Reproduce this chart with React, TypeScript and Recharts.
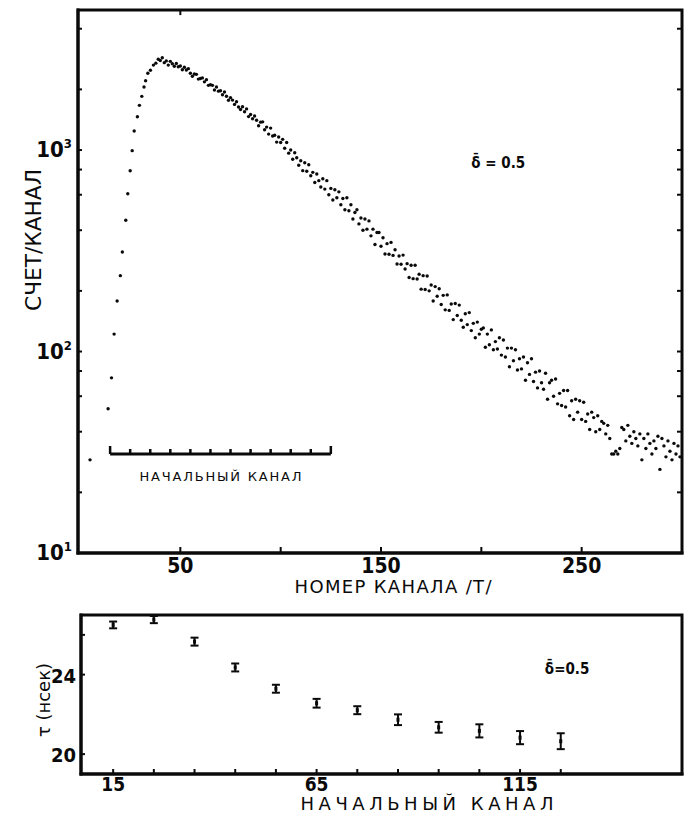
import {
  ErrorBar,
  Label,
  ReferenceArea,
  ReferenceDot,
  ReferenceLine,
  Scatter,
  ScatterChart,
  XAxis,
  YAxis,
} from 'recharts';

// ---- spectrum: counts per channel ----
// rising edge, channel positions as read off the channel scale
const RISE_CHANNELS = [5, 14, 15.7, 17, 18.5, 20.1, 21.1, 22.8, 23.8, 25, 26, 27, 28.6, 29.6, 30.8, 31.9, 32.7, 33.8, 35.1, 36.6, 37.8, 39, 40];
const RISE_COUNTS = [29, 52, 74, 122, 178, 238, 312, 448, 607, 789, 993, 1242, 1462, 1666, 1847, 2054, 2207, 2403, 2491, 2640, 2700, 2820, 2780];

// decay, one value per channel from channel 41 on
const DECAY_FIRST_CHANNEL = 41;
const DECAY_COUNTS = [
  2870, 2715, 2770, 2640, 2755, 2680, 2605, 2690, 2590, 2615,
  2505, 2575, 2495, 2535, 2405, 2325, 2385, 2375, 2250, 2265,
  2280, 2180, 2235, 2095, 2110, 2095, 1985, 2055, 1960, 1970,
  1880, 1940, 1850, 1765, 1820, 1770, 1685, 1735, 1635, 1590,
  1640, 1550, 1600, 1465, 1500, 1430, 1475, 1405, 1320, 1375,
  1380, 1260, 1300, 1200, 1285, 1175, 1185, 1095, 1160, 1090,
  1130, 1020, 1090, 965, 1000, 900, 970, 915, 840, 885,
  790, 865, 785, 845, 745, 775, 690, 760, 705, 655,
  720, 640, 705, 600, 645, 565, 635, 580, 620, 535,
  575, 505, 580, 500, 535, 455, 490, 505, 430, 460,
  400, 455, 405, 445, 375, 405, 340, 390, 390, 333,
  367, 305, 343, 304, 348, 300, 320, 272, 298, 271,
  301, 257, 273, 233, 268, 230, 268, 229, 242, 204,
  238, 203, 237, 200, 214, 178, 210, 188, 205, 171,
  190, 161, 191, 160, 172, 144, 173, 151, 170, 143,
  132, 154, 136, 156, 127, 138, 117, 140, 122, 129,
  131, 105, 122, 108, 128, 102, 112, 103, 117, 96,
  114, 94, 104, 84, 104, 90, 102, 81, 92, 82,
  94, 72, 88, 77, 92, 71, 79, 66, 80, 70,
  65, 78, 58, 70, 72, 60, 73, 55, 62, 54,
  64, 53, 64, 48, 57, 46, 58, 50, 57, 46,
  56, 45, 49, 41, 50, 47, 40, 48, 41, 45,
  44, 39, 43, 37, 31, 31, 32, 31, 33, 42,
  41, 36, 43, 38, 35, 40, 37, 34, 39, 29,
  37, 33, 39, 35, 31, 36, 33, 38, 26, 37,
  34, 30, 36, 32, 29, 35, 31, 34, 30,
];

const CHANNEL_DOMAIN = [-1, 300];
const CHANNEL_TICKS = [50, 100, 150, 200, 250];
const CHANNEL_LABELS = [50, 150, 250];
const CHANNEL_TOP_TICKS = [50];
const COUNT_DOMAIN = [10, 4955];
const COUNT_TICKS = [10, 20, 40, 60, 80, 100, 200, 400, 600, 800, 1000, 2000, 4000];
const COUNT_DECADES = [10, 100, 1000];

// ---- lifetime vs. starting channel ----
const START_DOMAIN = [7.1, 154.8];
const START_CHANNELS = [15, 25, 35, 45, 55, 65, 75, 85, 95, 105, 115, 125];
const TAU = [26.5, 26.77, 25.66, 24.36, 23.29, 22.56, 22.21, 21.73, 21.35, 21.17, 20.83, 20.65];
const TAU_ERR = [0.17, 0.18, 0.2, 0.2, 0.2, 0.22, 0.2, 0.27, 0.27, 0.33, 0.33, 0.4];
const START_LABELS = [15, 65, 115];
const TAU_DOMAIN = [19, 27];
const TAU_TICKS = [20, 24, 26];
const TAU_LABELS = [20, 24];

// level of the start-channel ruler drawn inside the spectrum
const RULER_LEVEL = 31;

const INK = '#0a0a0a';
const NUM_FONT = "'Liberation Sans Narrow','DejaVu Sans Condensed','Roboto Condensed','Liberation Sans',Arial,sans-serif";
const TEXT_FONT = "'DejaVu Sans','Liberation Sans',sans-serif";

const spectrum = [
  ...RISE_CHANNELS.map((ch, i) => ({ ch, count: RISE_COUNTS[i] })),
  ...DECAY_COUNTS.map((count, i) => ({ ch: DECAY_FIRST_CHANNEL + i, count })),
];
const ruler = START_CHANNELS.map((ch, i) => ({
  ch,
  count: RULER_LEVEL,
  end: i === 0 || i === START_CHANNELS.length - 1,
}));
const lifetimes = START_CHANNELS.map((ch, i) => ({ ch, tau: TAU[i], err: TAU_ERR[i] }));

const frame = { stroke: INK, strokeWidth: 3, strokeLinecap: 'square' as const };

// tick marks point into the plot; labels sit outside
function BottomTick({ x, y, payload, labels, len, size, gap }: any) {
  const v = payload.value;
  return (
    <g>
      <line x1={x} y1={y} x2={x} y2={y - len} stroke={INK} strokeWidth={2} />
      {labels.includes(v) && (
        <text x={x} y={y + gap} textAnchor="middle" fontFamily={NUM_FONT} fontWeight={700} fontSize={size} fill={INK}>
          {v}
        </text>
      )}
    </g>
  );
}

function CountTick({ x, y, payload }: any) {
  const v = payload.value;
  const i = COUNT_DECADES.indexOf(v);
  return (
    <g>
      <line x1={x} y1={y} x2={x + 4} y2={y} stroke={INK} strokeWidth={2} />
      {i >= 0 && (
        <text x={x - 6} y={y + 7} textAnchor="end" fontFamily={NUM_FONT} fontWeight={700} fontSize={22} fill={INK}>
          <tspan>10</tspan>
          <tspan dy={-9} fontSize={13}>{i + 1}</tspan>
        </text>
      )}
    </g>
  );
}

function TauTick({ x, y, payload }: any) {
  const v = payload.value;
  return (
    <g>
      <line x1={x} y1={y} x2={x + 4} y2={y} stroke={INK} strokeWidth={2} />
      {TAU_LABELS.includes(v) && (
        <text x={x - 5} y={y + 8} textAnchor="end" fontFamily={NUM_FONT} fontWeight={700} fontSize={20} fill={INK}>
          {v}
        </text>
      )}
    </g>
  );
}

const dot = (p: any) => <circle cx={p.cx} cy={p.cy} r={1.7} fill={INK} />;
const rulerTick = (p: any) => (
  <line x1={p.cx} y1={p.cy} x2={p.cx} y2={p.cy - (p.payload.end ? 8 : 5)} stroke={INK} strokeWidth={2.5} />
);
const barCore = (p: any) => <rect x={p.cx - 1.5} y={p.cy - 2} width={3} height={4} fill={INK} />;

function SpectrumChart() {
  const [chMin, chMax] = CHANNEL_DOMAIN;
  const [cMin, cMax] = COUNT_DOMAIN;
  return (
    <ScatterChart width={689} height={600} margin={{ top: 10, right: 7, bottom: 0, left: 0 }}>
      <XAxis
        xAxisId="b"
        type="number"
        dataKey="ch"
        domain={CHANNEL_DOMAIN}
        allowDataOverflow
        ticks={CHANNEL_TICKS}
        interval={0}
        height={47}
        tickSize={0}
        tickMargin={0}
        tickLine={false}
        axisLine={frame}
        tick={(p: any) => <BottomTick {...p} labels={CHANNEL_LABELS} len={6} size={21} gap={20} />}
      >
        <Label
          content={() => (
            <text x={393} y={593} textAnchor="middle" fontFamily={TEXT_FONT} fontSize={18} fill={INK} textLength={197} lengthAdjust="spacing">
              НОМЕР КАНАЛА /Т/
            </text>
          )}
        />
      </XAxis>
      <YAxis
        yAxisId="l"
        type="number"
        dataKey="count"
        scale="log"
        domain={COUNT_DOMAIN}
        allowDataOverflow
        ticks={COUNT_TICKS}
        interval={0}
        width={78}
        tickSize={0}
        tickMargin={0}
        tickLine={false}
        axisLine={frame}
        tick={CountTick}
      >
        <Label
          content={() => (
            <text
              x={33}
              y={240}
              transform="rotate(-90 33 240)"
              textAnchor="middle"
              dominantBaseline="central"
              fontFamily={TEXT_FONT}
              fontSize={22}
              fill={INK}
              textLength={142}
              lengthAdjust="spacingAndGlyphs"
            >
              СЧЕТ/КАНАЛ
            </text>
          )}
        />
      </YAxis>

      {/* closed frame around the plot */}
      <ReferenceArea
        xAxisId="b"
        yAxisId="l"
        x1={chMin}
        x2={chMax}
        y1={cMin}
        y2={cMax}
        fill="none"
        fillOpacity={0}
        stroke={INK}
        strokeWidth={3}
        ifOverflow="visible"
      />
      {/* inward ticks on the right edge (about 2.5 channels long) and the top edge */}
      {COUNT_TICKS.map((v) => (
        <ReferenceLine
          key={`r${v}`}
          xAxisId="b"
          yAxisId="l"
          segment={[{ x: chMax - 2.5, y: v }, { x: chMax, y: v }]}
          stroke={INK}
          strokeWidth={2}
          ifOverflow="visible"
        />
      ))}
      {CHANNEL_TOP_TICKS.map((v) => (
        <ReferenceLine
          key={`t${v}`}
          xAxisId="b"
          yAxisId="l"
          segment={[{ x: v, y: cMax }, { x: v, y: cMax / 1.06 }]}
          stroke={INK}
          strokeWidth={2}
          ifOverflow="visible"
        />
      ))}

      <ReferenceLine
        xAxisId="b"
        yAxisId="l"
        segment={[{ x: 15, y: RULER_LEVEL }, { x: 125, y: RULER_LEVEL }]}
        stroke={INK}
        strokeWidth={3}
        ifOverflow="visible"
        label={(props: any) => {
          const vb = props.viewBox;
          return (
            <text x={vb.x + vb.width / 2} y={vb.y + 27} textAnchor="middle" fontFamily={TEXT_FONT} fontSize={13} fill={INK} textLength={162} lengthAdjust="spacing">
              НАЧАЛЬНЫЙ КАНАЛ
            </text>
          );
        }}
      />
      <Scatter xAxisId="b" yAxisId="l" data={ruler} shape={rulerTick} isAnimationActive={false} />
      <Scatter xAxisId="b" yAxisId="l" data={spectrum} shape={dot} isAnimationActive={false} />

      <ReferenceDot
        xAxisId="b"
        yAxisId="l"
        x={195}
        y={815}
        r={0}
        fill="none"
        stroke="none"
        ifOverflow="visible"
        label={(props: any) => (
          <text x={props.viewBox.x} y={props.viewBox.y} fontFamily={NUM_FONT} fontWeight={700} fontSize={15} fill={INK}>
            δ̄ = 0.5
          </text>
        )}
      />
    </ScatterChart>
  );
}

function LifetimeChart() {
  return (
    <ScatterChart width={689} height={220} margin={{ top: 15, right: 7, bottom: 0, left: 0 }}>
      <XAxis
        xAxisId="b"
        type="number"
        dataKey="ch"
        domain={START_DOMAIN}
        allowDataOverflow
        ticks={START_CHANNELS}
        interval={0}
        height={46}
        tickSize={0}
        tickMargin={0}
        tickLine={false}
        axisLine={frame}
        tick={(p: any) => <BottomTick {...p} labels={START_LABELS} len={5} size={19} gap={17} />}
      >
        <Label
          content={() => (
            <text x={427} y={210} textAnchor="middle" fontFamily={TEXT_FONT} fontSize={18} fill={INK} textLength={253} lengthAdjust="spacing">
              НАЧАЛЬНЫЙ КАНАЛ
            </text>
          )}
        />
      </XAxis>
      <YAxis
        yAxisId="l"
        type="number"
        dataKey="tau"
        domain={TAU_DOMAIN}
        allowDataOverflow
        ticks={TAU_TICKS}
        interval={0}
        width={81}
        tickSize={0}
        tickMargin={0}
        tickLine={false}
        axisLine={frame}
        tick={TauTick}
      >
        <Label
          content={() => (
            <text
              x={43}
              y={100}
              transform="rotate(-90 43 100)"
              textAnchor="middle"
              dominantBaseline="central"
              fontFamily={TEXT_FONT}
              fontSize={18}
              fill={INK}
              textLength={74}
              lengthAdjust="spacingAndGlyphs"
            >
              τ (нсек)
            </text>
          )}
        />
      </YAxis>

      <ReferenceArea
        xAxisId="b"
        yAxisId="l"
        x1={START_DOMAIN[0]}
        x2={START_DOMAIN[1]}
        y1={TAU_DOMAIN[0]}
        y2={TAU_DOMAIN[1]}
        fill="none"
        fillOpacity={0}
        stroke={INK}
        strokeWidth={3}
        ifOverflow="visible"
      />

      <Scatter xAxisId="b" yAxisId="l" data={lifetimes} shape={barCore} isAnimationActive={false}>
        <ErrorBar dataKey="err" direction="y" width={4} strokeWidth={2} stroke={INK} isAnimationActive={false} />
      </Scatter>

      <ReferenceDot
        xAxisId="b"
        yAxisId="l"
        x={121.1}
        y={24.03}
        r={0}
        fill="none"
        stroke="none"
        ifOverflow="visible"
        label={(props: any) => (
          <text x={props.viewBox.x} y={props.viewBox.y} fontFamily={NUM_FONT} fontWeight={700} fontSize={15} fill={INK}>
            δ̄=0.5
          </text>
        )}
      />
    </ScatterChart>
  );
}

export default function App() {
  return (
    <div style={{ position: 'absolute', left: 0, top: 0, width: 689, height: 820, background: '#fff' }}>
      <div style={{ position: 'absolute', left: 0, top: 0 }}>
        <SpectrumChart />
      </div>
      <div style={{ position: 'absolute', left: 0, top: 600 }}>
        <LifetimeChart />
      </div>
    </div>
  );
}
